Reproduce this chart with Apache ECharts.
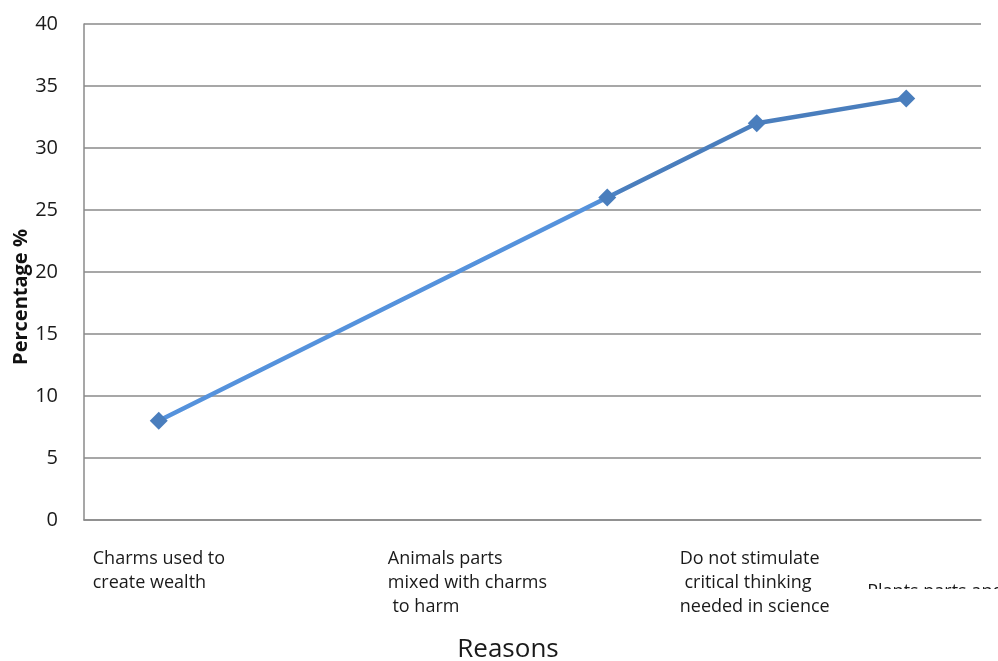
<!DOCTYPE html>
<html>
<head>
<meta charset="utf-8">
<script src="https://cdn.jsdelivr.net/npm/echarts@6/dist/echarts.min.js"></script>
<style>
  html, body { margin: 0; padding: 0; background: #fff; overflow: hidden; }
  #chart { width: 998px; height: 661px; }
</style>
</head>
<body>
<div id="chart"></div>
<script>
// Category slots along the x axis (six equal slots; some carry no point)
const categories = ['c0', 'c1', 'c2', 'c3', 'c4', 'c5'];
// Reason labels printed under the axis, with the slot each one sits under
const reasonLabels = [
  'Charms used to\ncreate wealth',
  'Animals parts\nmixed with charms\n to harm',
  'Do not stimulate\n critical thinking\nneeded in science',
  'Plants parts and herbs'
];
const reasonSlots = [0, 2, 4, 5];
// Percentage per slot (null = no point in that slot)
const percentages = [8, null, null, 26, 32, 34];
// Y axis ticks
const yMin = 0, yMax = 40, yStep = 5;

const FONT = '"Open Sans", "Noto Sans", sans-serif';
const chart = echarts.init(document.getElementById('chart'));
const H = chart.getHeight();

const option = {
  animation: false,
  backgroundColor: '#ffffff',
  grid: { left: 84, right: 17, top: 24, bottom: H - 520, containLabel: false },
  xAxis: {
    type: 'category',
    data: categories,
    boundaryGap: true,
    axisLine: { show: true, lineStyle: { color: '#8a8a8a', width: 1.5 } },
    axisTick: { show: false },
    axisLabel: { show: false },
    splitLine: { show: false }
  },
  yAxis: {
    type: 'value',
    min: yMin,
    max: yMax,
    interval: yStep,
    axisLine: { show: true, lineStyle: { color: '#8a8a8a', width: 1.5 } },
    axisTick: { show: false },
    axisLabel: { margin: 26, fontFamily: FONT, fontSize: 20, color: '#1a1a1a' },
    splitLine: { show: true, lineStyle: { color: '#8a8a8a', width: 1.5 } }
  },
  series: [{
    type: 'line',
    data: percentages,
    connectNulls: true,
    symbol: 'diamond',
    symbolSize: 18,
    lineStyle: {
      width: 4.5,
      color: new echarts.graphic.LinearGradient(0, 0, 1, 0, [
        { offset: 0, color: '#5592dc' },
        { offset: 0.58, color: '#5592dc' },
        { offset: 0.62, color: '#4a7ebd' },
        { offset: 1, color: '#4a7ebd' }
      ])
    },
    itemStyle: { color: '#4a7ebd' }
  }]
};
chart.setOption(option);

// Reason labels: left-aligned blocks under their slots
const labelShift = [-66, -70, -77, -39];
const labelTop = [547, 547, 547, 580];
const graphics = reasonLabels.map(function (txt, i) {
  const cx = chart.convertToPixel({ xAxisIndex: 0 }, reasonSlots[i]);
  return {
    type: 'text',
    x: cx + labelShift[i],
    y: labelTop[i],
    z: 10,
    style: {
      text: txt,
      font: '18px ' + FONT,
      fill: '#1a1a1a',
      textAlign: 'left',
      textVerticalAlign: 'top',
      lineHeight: 24
    }
  };
});
// the last label is only partly visible: its lower part is masked
graphics.push({
  type: 'rect', x: 850, y: 589, z: 20,
  shape: { width: 148, height: 30 },
  style: { fill: '#ffffff' }
});
// Rotated y axis title
graphics.push({
  type: 'text',
  x: 21, y: 297, rotation: Math.PI / 2, z: 10,
  style: {
    text: 'Percentage %',
    font: 'bold 20px ' + FONT,
    fill: '#111111',
    textAlign: 'center',
    textVerticalAlign: 'middle'
  }
});
// X axis title
graphics.push({
  type: 'text',
  x: 508, y: 650, z: 10,
  style: {
    text: 'Reasons',
    font: '26px ' + FONT,
    fill: '#1a1a1a',
    textAlign: 'center',
    textVerticalAlign: 'middle'
  }
});
chart.setOption({ graphic: graphics });
</script>
</body>
</html>
